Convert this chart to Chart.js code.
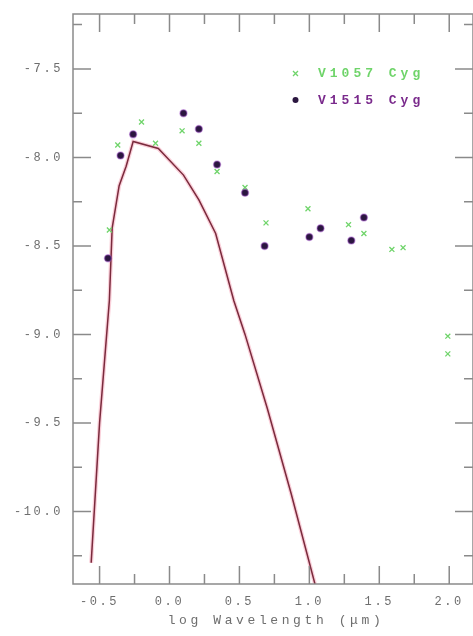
<!DOCTYPE html>
<html lang="en">
<head>
    <meta charset="UTF-8">
    <title>V1057 Cyg / V1515 Cyg SED</title>
    <script src="https://cdn.jsdelivr.net/npm/chart.js"></script>
    <style>
        html, body { margin: 0; padding: 0; background: #fff; }
        #box { width: 473px; height: 636px; }
    </style>
</head>
<body>
    <div id="box"><canvas id="sed"></canvas></div>

    <script>
        // V1057 Cyg (green crosses)
        const v1057X = [-0.43, -0.37, -0.20, -0.10, 0.09, 0.21, 0.34, 0.54, 0.69, 0.99, 1.28, 1.39, 1.59, 1.67, 1.99, 1.99];
        const v1057Y = [-8.41, -7.93, -7.80, -7.92, -7.85, -7.92, -8.08, -8.17, -8.37, -8.29, -8.38, -8.43, -8.52, -8.51, -9.01, -9.11];

        // V1515 Cyg (dark dots)
        const v1515X = [-0.44, -0.35, -0.26, 0.10, 0.21, 0.34, 0.54, 0.68, 1.00, 1.08, 1.30, 1.39];
        const v1515Y = [-8.57, -7.99, -7.87, -7.75, -7.84, -8.04, -8.20, -8.50, -8.45, -8.40, -8.47, -8.34];

        // model curve
        const modelX = [-0.56, -0.50, -0.43, -0.41, -0.36, -0.31, -0.26, -0.08, 0.10, 0.21, 0.33, 0.46, 0.54, 0.70, 0.87, 1.04];
        const modelY = [-10.29, -9.50, -8.81, -8.40, -8.16, -8.05, -7.91, -7.95, -8.10, -8.24, -8.43, -8.81, -9.00, -9.42, -9.90, -10.41];

        // axis ticks
        const xTicks = [-0.5, 0.0, 0.5, 1.0, 1.5, 2.0];
        const yTicks = [-7.5, -8.0, -8.5, -9.0, -9.5, -10.0];

        const toPts = (xs, ys) => xs.map((x, i) => ({ x: x, y: ys[i] }));

        const GREEN = '#6fd46a';
        const PURPLE_DOT = '#2b1640';
        const AXIS = '#8a8a8a';
        const TXT = '#6e6e6e';

        // frame, inward ticks, labels, legend
        const framePlugin = {
            id: 'frame',
            afterDraw(chart) {
                const ctx = chart.ctx;
                const a = chart.chartArea;
                const xs = chart.scales.x, ys = chart.scales.y;
                ctx.save();
                ctx.strokeStyle = AXIS;
                ctx.lineWidth = 1.5;
                ctx.strokeRect(a.left, a.top, a.right - a.left, a.bottom - a.top);

                ctx.beginPath();
                for (let v = -0.75; v <= 2.25; v += 0.25) {
                    const px = xs.getPixelForValue(v);
                    if (px < a.left + 2 || px > a.right - 2) continue;
                    const major = Math.abs(v * 2 - Math.round(v * 2)) < 1e-6;
                    const len = major ? 18 : 10;
                    ctx.moveTo(px, a.bottom); ctx.lineTo(px, a.bottom - len);
                    ctx.moveTo(px, a.top); ctx.lineTo(px, a.top + len);
                }
                for (let v = -10.25; v <= -7.25; v += 0.25) {
                    const py = ys.getPixelForValue(v);
                    if (py < a.top + 2 || py > a.bottom - 2) continue;
                    const major = Math.abs(v * 2 - Math.round(v * 2)) < 1e-6;
                    const len = major ? 18 : 9;
                    ctx.moveTo(a.left, py); ctx.lineTo(a.left + len, py);
                    ctx.moveTo(a.right, py); ctx.lineTo(a.right - len, py);
                }
                ctx.stroke();

                // tick labels
                ctx.fillStyle = TXT;
                ctx.font = '12px "Liberation Mono", "DejaVu Sans Mono", monospace';
                ctx.letterSpacing = '2.6px';
                ctx.textBaseline = 'middle';
                ctx.textAlign = 'center';
                xTicks.forEach(v => {
                    ctx.fillText(v.toFixed(1), xs.getPixelForValue(v), a.bottom + 18);
                });
                ctx.textAlign = 'right';
                yTicks.forEach(v => {
                    ctx.fillText(v.toFixed(1), a.left - 10, ys.getPixelForValue(v));
                });

                // axis title
                ctx.textAlign = 'center';
                ctx.font = '13px "Liberation Mono", "DejaVu Sans Mono", monospace';
                ctx.letterSpacing = '3.6px';
                ctx.fillText('log Wavelength (\u03bcm)', 276, 621);

                // legend
                ctx.font = 'bold 13px "Liberation Mono", "DejaVu Sans Mono", monospace';
                ctx.letterSpacing = '4px';
                ctx.textAlign = 'left';
                ctx.strokeStyle = GREEN;
                ctx.lineWidth = 1.3;
                ctx.beginPath();
                ctx.moveTo(293, 71); ctx.lineTo(298, 76);
                ctx.moveTo(298, 71); ctx.lineTo(293, 76);
                ctx.stroke();
                ctx.fillStyle = GREEN;
                ctx.fillText('V1057 Cyg', 318, 74);
                ctx.fillStyle = PURPLE_DOT;
                ctx.beginPath();
                ctx.arc(295.5, 100, 3, 0, Math.PI * 2);
                ctx.fill();
                ctx.fillStyle = '#7a2a8c';
                ctx.fillText('V1515 Cyg', 318, 101);
                ctx.restore();
            }
        };

        new Chart(document.getElementById('sed'), {
            type: 'scatter',
            data: {
                datasets: [
                    {
                        label: 'model halo',
                        type: 'line',
                        data: toPts(modelX, modelY),
                        borderColor: 'rgba(240,120,150,0.35)',
                        borderWidth: 4,
                        pointRadius: 0,
                        tension: 0,
                        order: 3
                    },
                    {
                        label: 'model',
                        type: 'line',
                        data: toPts(modelX, modelY),
                        borderColor: '#7a2a3c',
                        borderWidth: 1.5,
                        pointRadius: 0,
                        tension: 0,
                        order: 2
                    },
                    {
                        label: 'V1057 Cyg',
                        data: toPts(v1057X, v1057Y),
                        pointStyle: 'crossRot',
                        pointRadius: 3.5,
                        borderColor: GREEN,
                        borderWidth: 1.3,
                        order: 1
                    },
                    {
                        label: 'V1515 Cyg',
                        data: toPts(v1515X, v1515Y),
                        pointStyle: 'circle',
                        pointRadius: 3.5,
                        backgroundColor: PURPLE_DOT,
                        borderColor: 'rgba(170,90,210,0.45)',
                        borderWidth: 1.5,
                        order: 0
                    }
                ]
            },
            options: {
                responsive: true,
                maintainAspectRatio: false,
                animation: false,
                events: [],
                layout: { autoPadding: false, padding: { top: 14, right: 0, left: 0, bottom: 0 } },
                plugins: {
                    legend: { display: false },
                    tooltip: { enabled: false }
                },
                scales: {
                    x: {
                        type: 'linear',
                        min: -0.69,
                        max: 2.17,
                        grid: { display: false },
                        border: { display: false },
                        ticks: { display: false },
                        afterFit: s => { s.height = 52; }
                    },
                    y: {
                        type: 'linear',
                        min: -10.41,
                        max: -7.19,
                        grid: { display: false },
                        border: { display: false },
                        ticks: { display: false },
                        afterFit: s => { s.width = 73; }
                    }
                }
            },
            plugins: [framePlugin]
        });
    </script>
</body>
</html>
